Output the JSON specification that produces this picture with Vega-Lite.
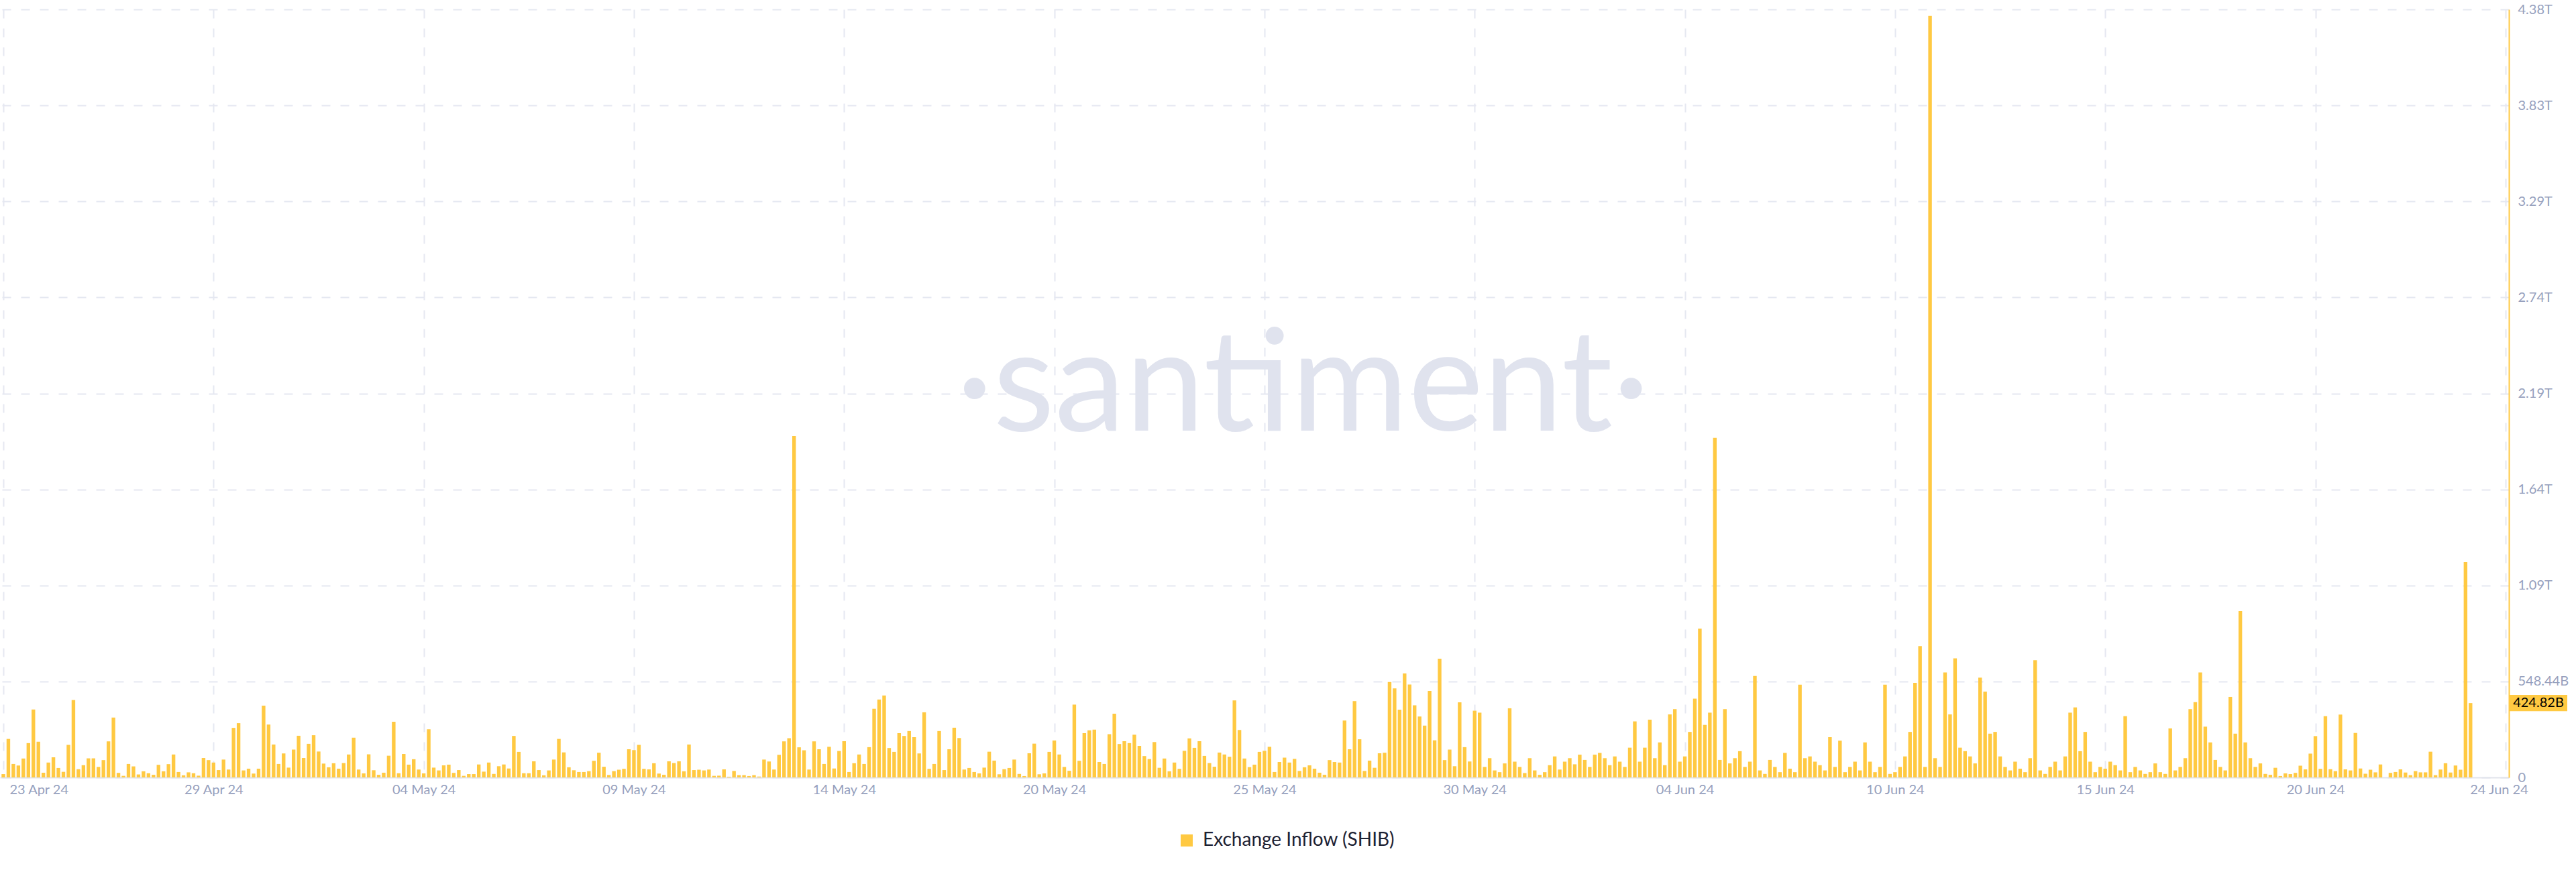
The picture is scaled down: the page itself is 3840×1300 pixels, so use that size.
{
"$schema": "https://vega.github.io/schema/vega-lite/v6.json",
"width": 3740,
"height": 1145,
"autosize": {"type": "none"},
"padding": {"left": 0, "top": 14, "right": 100, "bottom": 141},
"background": "white",
"config": {"view": {"stroke": null}, "font": "Lato"},
"datasets": {
"brand": [{"t": "2024-05-26T05:00", "v": 1981, "name": "·santiment·"}],
"last": [{"t": "2024-06-24T09:00", "v": 424.82, "lbl": "424.82B"}],
"inflow": [
{"t":"2024-04-23T18:00","v":19},{"t":"2024-04-23T21:00","v":220},
{"t":"2024-04-24T00:00","v":77},{"t":"2024-04-24T03:00","v":68},{"t":"2024-04-24T06:00","v":108},{"t":"2024-04-24T09:00","v":196},{"t":"2024-04-24T12:00","v":388},{"t":"2024-04-24T15:00","v":204},{"t":"2024-04-24T18:00","v":27},{"t":"2024-04-24T21:00","v":85},
{"t":"2024-04-25T00:00","v":115},{"t":"2024-04-25T03:00","v":54},{"t":"2024-04-25T06:00","v":32},{"t":"2024-04-25T09:00","v":186},{"t":"2024-04-25T12:00","v":442},{"t":"2024-04-25T15:00","v":47},{"t":"2024-04-25T18:00","v":70},{"t":"2024-04-25T21:00","v":109},
{"t":"2024-04-26T00:00","v":109},{"t":"2024-04-26T03:00","v":60},{"t":"2024-04-26T06:00","v":99},{"t":"2024-04-26T09:00","v":206},{"t":"2024-04-26T12:00","v":342},{"t":"2024-04-26T15:00","v":26},{"t":"2024-04-26T18:00","v":9},{"t":"2024-04-26T21:00","v":77},
{"t":"2024-04-27T00:00","v":63},{"t":"2024-04-27T03:00","v":17},{"t":"2024-04-27T06:00","v":35},{"t":"2024-04-27T09:00","v":24},{"t":"2024-04-27T12:00","v":15},{"t":"2024-04-27T15:00","v":72},{"t":"2024-04-27T18:00","v":35},{"t":"2024-04-27T21:00","v":76},
{"t":"2024-04-28T00:00","v":131},{"t":"2024-04-28T03:00","v":31},{"t":"2024-04-28T06:00","v":12},{"t":"2024-04-28T09:00","v":29},{"t":"2024-04-28T12:00","v":24},{"t":"2024-04-28T15:00","v":10},{"t":"2024-04-28T18:00","v":111},{"t":"2024-04-28T21:00","v":99},
{"t":"2024-04-29T00:00","v":85},{"t":"2024-04-29T03:00","v":42},{"t":"2024-04-29T06:00","v":102},{"t":"2024-04-29T09:00","v":45},{"t":"2024-04-29T12:00","v":283},{"t":"2024-04-29T15:00","v":310},{"t":"2024-04-29T18:00","v":40},{"t":"2024-04-29T21:00","v":50},
{"t":"2024-04-30T00:00","v":22},{"t":"2024-04-30T03:00","v":50},{"t":"2024-04-30T06:00","v":410},{"t":"2024-04-30T09:00","v":302},{"t":"2024-04-30T12:00","v":188},{"t":"2024-04-30T15:00","v":77},{"t":"2024-04-30T18:00","v":137},{"t":"2024-04-30T21:00","v":56},
{"t":"2024-05-01T00:00","v":159},{"t":"2024-05-01T03:00","v":238},{"t":"2024-05-01T06:00","v":111},{"t":"2024-05-01T09:00","v":192},{"t":"2024-05-01T12:00","v":241},{"t":"2024-05-01T15:00","v":148},{"t":"2024-05-01T18:00","v":79},{"t":"2024-05-01T21:00","v":58},
{"t":"2024-05-02T00:00","v":81},{"t":"2024-05-02T03:00","v":50},{"t":"2024-05-02T06:00","v":82},{"t":"2024-05-02T09:00","v":131},{"t":"2024-05-02T12:00","v":227},{"t":"2024-05-02T15:00","v":45},{"t":"2024-05-02T18:00","v":23},{"t":"2024-05-02T21:00","v":132},
{"t":"2024-05-03T00:00","v":41},{"t":"2024-05-03T03:00","v":15},{"t":"2024-05-03T06:00","v":27},{"t":"2024-05-03T09:00","v":124},{"t":"2024-05-03T12:00","v":318},{"t":"2024-05-03T15:00","v":24},{"t":"2024-05-03T18:00","v":134},{"t":"2024-05-03T21:00","v":73},
{"t":"2024-05-04T00:00","v":104},{"t":"2024-05-04T03:00","v":45},{"t":"2024-05-04T06:00","v":23},{"t":"2024-05-04T09:00","v":275},{"t":"2024-05-04T12:00","v":56},{"t":"2024-05-04T15:00","v":40},{"t":"2024-05-04T18:00","v":69},{"t":"2024-05-04T21:00","v":73},
{"t":"2024-05-05T00:00","v":26},{"t":"2024-05-05T03:00","v":42},{"t":"2024-05-05T06:00","v":9},{"t":"2024-05-05T09:00","v":19},{"t":"2024-05-05T12:00","v":19},{"t":"2024-05-05T15:00","v":74},{"t":"2024-05-05T18:00","v":33},{"t":"2024-05-05T21:00","v":85},
{"t":"2024-05-06T00:00","v":20},{"t":"2024-05-06T03:00","v":64},{"t":"2024-05-06T06:00","v":74},{"t":"2024-05-06T09:00","v":51},{"t":"2024-05-06T12:00","v":237},{"t":"2024-05-06T15:00","v":146},{"t":"2024-05-06T18:00","v":24},{"t":"2024-05-06T21:00","v":24},
{"t":"2024-05-07T00:00","v":92},{"t":"2024-05-07T03:00","v":42},{"t":"2024-05-07T06:00","v":12},{"t":"2024-05-07T09:00","v":40},{"t":"2024-05-07T12:00","v":102},{"t":"2024-05-07T15:00","v":220},{"t":"2024-05-07T18:00","v":143},{"t":"2024-05-07T21:00","v":58},
{"t":"2024-05-08T00:00","v":41},{"t":"2024-05-08T03:00","v":31},{"t":"2024-05-08T06:00","v":31},{"t":"2024-05-08T09:00","v":36},{"t":"2024-05-08T12:00","v":95},{"t":"2024-05-08T15:00","v":141},{"t":"2024-05-08T18:00","v":61},{"t":"2024-05-08T21:00","v":14},
{"t":"2024-05-09T00:00","v":36},{"t":"2024-05-09T03:00","v":44},{"t":"2024-05-09T06:00","v":49},{"t":"2024-05-09T09:00","v":161},{"t":"2024-05-09T12:00","v":156},{"t":"2024-05-09T15:00","v":186},{"t":"2024-05-09T18:00","v":49},{"t":"2024-05-09T21:00","v":46},
{"t":"2024-05-10T00:00","v":81},{"t":"2024-05-10T03:00","v":22},{"t":"2024-05-10T06:00","v":15},{"t":"2024-05-10T09:00","v":92},{"t":"2024-05-10T12:00","v":82},{"t":"2024-05-10T15:00","v":92},{"t":"2024-05-10T18:00","v":35},{"t":"2024-05-10T21:00","v":188},
{"t":"2024-05-11T00:00","v":42},{"t":"2024-05-11T03:00","v":44},{"t":"2024-05-11T06:00","v":40},{"t":"2024-05-11T09:00","v":45},{"t":"2024-05-11T12:00","v":9},{"t":"2024-05-11T15:00","v":10},{"t":"2024-05-11T18:00","v":46},{"t":"2024-05-11T21:00","v":4},
{"t":"2024-05-12T00:00","v":37},{"t":"2024-05-12T03:00","v":13},{"t":"2024-05-12T06:00","v":13},{"t":"2024-05-12T09:00","v":8},{"t":"2024-05-12T12:00","v":13},{"t":"2024-05-12T15:00","v":5},{"t":"2024-05-12T18:00","v":102},{"t":"2024-05-12T21:00","v":91},
{"t":"2024-05-13T00:00","v":45},{"t":"2024-05-13T03:00","v":129},{"t":"2024-05-13T06:00","v":206},{"t":"2024-05-13T09:00","v":224},{"t":"2024-05-13T12:00","v":1950},{"t":"2024-05-13T15:00","v":172},{"t":"2024-05-13T18:00","v":155},{"t":"2024-05-13T21:00","v":45},
{"t":"2024-05-14T00:00","v":206},{"t":"2024-05-14T03:00","v":161},{"t":"2024-05-14T06:00","v":77},{"t":"2024-05-14T09:00","v":175},{"t":"2024-05-14T12:00","v":51},{"t":"2024-05-14T15:00","v":151},{"t":"2024-05-14T18:00","v":207},{"t":"2024-05-14T21:00","v":31},
{"t":"2024-05-15T00:00","v":81},{"t":"2024-05-15T03:00","v":131},{"t":"2024-05-15T06:00","v":77},{"t":"2024-05-15T09:00","v":173},{"t":"2024-05-15T12:00","v":392},{"t":"2024-05-15T15:00","v":445},{"t":"2024-05-15T18:00","v":468},{"t":"2024-05-15T21:00","v":168},
{"t":"2024-05-16T00:00","v":146},{"t":"2024-05-16T03:00","v":253},{"t":"2024-05-16T06:00","v":237},{"t":"2024-05-16T09:00","v":265},{"t":"2024-05-16T12:00","v":230},{"t":"2024-05-16T15:00","v":137},{"t":"2024-05-16T18:00","v":372},{"t":"2024-05-16T21:00","v":49},
{"t":"2024-05-17T00:00","v":77},{"t":"2024-05-17T03:00","v":265},{"t":"2024-05-17T06:00","v":42},{"t":"2024-05-17T09:00","v":161},{"t":"2024-05-17T12:00","v":284},{"t":"2024-05-17T15:00","v":225},{"t":"2024-05-17T18:00","v":45},{"t":"2024-05-17T21:00","v":54},
{"t":"2024-05-18T00:00","v":31},{"t":"2024-05-18T03:00","v":23},{"t":"2024-05-18T06:00","v":56},{"t":"2024-05-18T09:00","v":147},{"t":"2024-05-18T12:00","v":96},{"t":"2024-05-18T15:00","v":18},{"t":"2024-05-18T18:00","v":47},{"t":"2024-05-18T21:00","v":54},
{"t":"2024-05-19T00:00","v":102},{"t":"2024-05-19T03:00","v":20},{"t":"2024-05-19T06:00","v":8},{"t":"2024-05-19T09:00","v":138},{"t":"2024-05-19T12:00","v":193},{"t":"2024-05-19T15:00","v":18},{"t":"2024-05-19T18:00","v":23},{"t":"2024-05-19T21:00","v":146},
{"t":"2024-05-20T00:00","v":211},{"t":"2024-05-20T03:00","v":131},{"t":"2024-05-20T06:00","v":60},{"t":"2024-05-20T09:00","v":38},{"t":"2024-05-20T12:00","v":416},{"t":"2024-05-20T15:00","v":95},{"t":"2024-05-20T18:00","v":253},{"t":"2024-05-20T21:00","v":269},
{"t":"2024-05-21T00:00","v":273},{"t":"2024-05-21T03:00","v":88},{"t":"2024-05-21T06:00","v":77},{"t":"2024-05-21T09:00","v":247},{"t":"2024-05-21T12:00","v":364},{"t":"2024-05-21T15:00","v":191},{"t":"2024-05-21T18:00","v":207},{"t":"2024-05-21T21:00","v":196},
{"t":"2024-05-22T00:00","v":244},{"t":"2024-05-22T03:00","v":180},{"t":"2024-05-22T06:00","v":122},{"t":"2024-05-22T09:00","v":105},{"t":"2024-05-22T12:00","v":202},{"t":"2024-05-22T15:00","v":55},{"t":"2024-05-22T18:00","v":108},{"t":"2024-05-22T21:00","v":35},
{"t":"2024-05-23T00:00","v":85},{"t":"2024-05-23T03:00","v":49},{"t":"2024-05-23T06:00","v":152},{"t":"2024-05-23T09:00","v":223},{"t":"2024-05-23T12:00","v":169},{"t":"2024-05-23T15:00","v":207},{"t":"2024-05-23T18:00","v":123},{"t":"2024-05-23T21:00","v":82},
{"t":"2024-05-24T00:00","v":61},{"t":"2024-05-24T03:00","v":142},{"t":"2024-05-24T06:00","v":131},{"t":"2024-05-24T09:00","v":118},{"t":"2024-05-24T12:00","v":440},{"t":"2024-05-24T15:00","v":271},{"t":"2024-05-24T18:00","v":108},{"t":"2024-05-24T21:00","v":59},
{"t":"2024-05-25T00:00","v":73},{"t":"2024-05-25T03:00","v":146},{"t":"2024-05-25T06:00","v":152},{"t":"2024-05-25T09:00","v":175},{"t":"2024-05-25T12:00","v":31},{"t":"2024-05-25T15:00","v":88},{"t":"2024-05-25T18:00","v":113},{"t":"2024-05-25T21:00","v":85},
{"t":"2024-05-26T00:00","v":106},{"t":"2024-05-26T03:00","v":37},{"t":"2024-05-26T06:00","v":58},{"t":"2024-05-26T09:00","v":69},{"t":"2024-05-26T12:00","v":50},{"t":"2024-05-26T15:00","v":27},{"t":"2024-05-26T18:00","v":15},{"t":"2024-05-26T21:00","v":99},
{"t":"2024-05-27T00:00","v":88},{"t":"2024-05-27T03:00","v":85},{"t":"2024-05-27T06:00","v":325},{"t":"2024-05-27T09:00","v":161},{"t":"2024-05-27T12:00","v":436},{"t":"2024-05-27T15:00","v":218},{"t":"2024-05-27T18:00","v":37},{"t":"2024-05-27T21:00","v":96},
{"t":"2024-05-28T00:00","v":55},{"t":"2024-05-28T03:00","v":138},{"t":"2024-05-28T06:00","v":141},{"t":"2024-05-28T09:00","v":545},{"t":"2024-05-28T12:00","v":509},{"t":"2024-05-28T15:00","v":387},{"t":"2024-05-28T18:00","v":594},{"t":"2024-05-28T21:00","v":531},
{"t":"2024-05-29T00:00","v":412},{"t":"2024-05-29T03:00","v":348},{"t":"2024-05-29T06:00","v":296},{"t":"2024-05-29T09:00","v":494},{"t":"2024-05-29T12:00","v":212},{"t":"2024-05-29T15:00","v":678},{"t":"2024-05-29T18:00","v":99},{"t":"2024-05-29T21:00","v":159},
{"t":"2024-05-30T00:00","v":64},{"t":"2024-05-30T03:00","v":429},{"t":"2024-05-30T06:00","v":173},{"t":"2024-05-30T09:00","v":91},{"t":"2024-05-30T12:00","v":381},{"t":"2024-05-30T15:00","v":370},{"t":"2024-05-30T18:00","v":60},{"t":"2024-05-30T21:00","v":110},
{"t":"2024-05-31T00:00","v":40},{"t":"2024-05-31T03:00","v":30},{"t":"2024-05-31T06:00","v":80},{"t":"2024-05-31T09:00","v":395},{"t":"2024-05-31T12:00","v":90},{"t":"2024-05-31T15:00","v":60},{"t":"2024-05-31T18:00","v":25},{"t":"2024-05-31T21:00","v":110},
{"t":"2024-06-01T00:00","v":40},{"t":"2024-06-01T03:00","v":15},{"t":"2024-06-01T06:00","v":30},{"t":"2024-06-01T09:00","v":70},{"t":"2024-06-01T12:00","v":120},{"t":"2024-06-01T15:00","v":45},{"t":"2024-06-01T18:00","v":90},{"t":"2024-06-01T21:00","v":110},
{"t":"2024-06-02T00:00","v":75},{"t":"2024-06-02T03:00","v":130},{"t":"2024-06-02T06:00","v":100},{"t":"2024-06-02T09:00","v":60},{"t":"2024-06-02T12:00","v":130},{"t":"2024-06-02T15:00","v":140},{"t":"2024-06-02T18:00","v":110},{"t":"2024-06-02T21:00","v":70},
{"t":"2024-06-03T00:00","v":120},{"t":"2024-06-03T03:00","v":90},{"t":"2024-06-03T06:00","v":60},{"t":"2024-06-03T09:00","v":170},{"t":"2024-06-03T12:00","v":320},{"t":"2024-06-03T15:00","v":90},{"t":"2024-06-03T18:00","v":170},{"t":"2024-06-03T21:00","v":330},
{"t":"2024-06-04T00:00","v":110},{"t":"2024-06-04T03:00","v":200},{"t":"2024-06-04T06:00","v":70},{"t":"2024-06-04T09:00","v":360},{"t":"2024-06-04T12:00","v":390},{"t":"2024-06-04T15:00","v":90},{"t":"2024-06-04T18:00","v":120},{"t":"2024-06-04T21:00","v":260},
{"t":"2024-06-05T00:00","v":450},{"t":"2024-06-05T03:00","v":850},{"t":"2024-06-05T06:00","v":300},{"t":"2024-06-05T09:00","v":370},{"t":"2024-06-05T12:00","v":1940},{"t":"2024-06-05T15:00","v":100},{"t":"2024-06-05T18:00","v":390},{"t":"2024-06-05T21:00","v":80},
{"t":"2024-06-06T00:00","v":110},{"t":"2024-06-06T03:00","v":150},{"t":"2024-06-06T06:00","v":60},{"t":"2024-06-06T09:00","v":90},{"t":"2024-06-06T12:00","v":580},{"t":"2024-06-06T15:00","v":40},{"t":"2024-06-06T18:00","v":20},{"t":"2024-06-06T21:00","v":100},
{"t":"2024-06-07T00:00","v":60},{"t":"2024-06-07T03:00","v":30},{"t":"2024-06-07T06:00","v":140},{"t":"2024-06-07T09:00","v":50},{"t":"2024-06-07T12:00","v":30},{"t":"2024-06-07T15:00","v":530},{"t":"2024-06-07T18:00","v":110},{"t":"2024-06-07T21:00","v":120},
{"t":"2024-06-08T00:00","v":90},{"t":"2024-06-08T03:00","v":70},{"t":"2024-06-08T06:00","v":40},{"t":"2024-06-08T09:00","v":230},{"t":"2024-06-08T12:00","v":60},{"t":"2024-06-08T15:00","v":210},{"t":"2024-06-08T18:00","v":30},{"t":"2024-06-08T21:00","v":60},
{"t":"2024-06-09T00:00","v":90},{"t":"2024-06-09T03:00","v":40},{"t":"2024-06-09T06:00","v":200},{"t":"2024-06-09T09:00","v":90},{"t":"2024-06-09T12:00","v":30},{"t":"2024-06-09T15:00","v":60},{"t":"2024-06-09T18:00","v":530},{"t":"2024-06-09T21:00","v":20},
{"t":"2024-06-10T00:00","v":30},{"t":"2024-06-10T03:00","v":60},{"t":"2024-06-10T06:00","v":120},{"t":"2024-06-10T09:00","v":260},{"t":"2024-06-10T12:00","v":540},{"t":"2024-06-10T15:00","v":750},{"t":"2024-06-10T18:00","v":60},{"t":"2024-06-10T21:00","v":4350},
{"t":"2024-06-11T00:00","v":110},{"t":"2024-06-11T03:00","v":60},{"t":"2024-06-11T06:00","v":600},{"t":"2024-06-11T09:00","v":360},{"t":"2024-06-11T12:00","v":680},{"t":"2024-06-11T15:00","v":170},{"t":"2024-06-11T18:00","v":150},{"t":"2024-06-11T21:00","v":120},
{"t":"2024-06-12T00:00","v":80},{"t":"2024-06-12T03:00","v":570},{"t":"2024-06-12T06:00","v":490},{"t":"2024-06-12T09:00","v":250},{"t":"2024-06-12T12:00","v":260},{"t":"2024-06-12T15:00","v":120},{"t":"2024-06-12T18:00","v":60},{"t":"2024-06-12T21:00","v":40},
{"t":"2024-06-13T00:00","v":90},{"t":"2024-06-13T03:00","v":50},{"t":"2024-06-13T06:00","v":30},{"t":"2024-06-13T09:00","v":110},{"t":"2024-06-13T12:00","v":670},{"t":"2024-06-13T15:00","v":40},{"t":"2024-06-13T18:00","v":20},{"t":"2024-06-13T21:00","v":60},
{"t":"2024-06-14T00:00","v":90},{"t":"2024-06-14T03:00","v":40},{"t":"2024-06-14T06:00","v":120},{"t":"2024-06-14T09:00","v":370},{"t":"2024-06-14T12:00","v":400},{"t":"2024-06-14T15:00","v":150},{"t":"2024-06-14T18:00","v":260},{"t":"2024-06-14T21:00","v":90},
{"t":"2024-06-15T00:00","v":30},{"t":"2024-06-15T03:00","v":60},{"t":"2024-06-15T06:00","v":50},{"t":"2024-06-15T09:00","v":90},{"t":"2024-06-15T12:00","v":70},{"t":"2024-06-15T15:00","v":40},{"t":"2024-06-15T18:00","v":350},{"t":"2024-06-15T21:00","v":30},
{"t":"2024-06-16T00:00","v":60},{"t":"2024-06-16T03:00","v":40},{"t":"2024-06-16T06:00","v":20},{"t":"2024-06-16T09:00","v":30},{"t":"2024-06-16T12:00","v":80},{"t":"2024-06-16T15:00","v":30},{"t":"2024-06-16T18:00","v":20},{"t":"2024-06-16T21:00","v":280},
{"t":"2024-06-17T00:00","v":40},{"t":"2024-06-17T03:00","v":60},{"t":"2024-06-17T06:00","v":110},{"t":"2024-06-17T09:00","v":390},{"t":"2024-06-17T12:00","v":430},{"t":"2024-06-17T15:00","v":600},{"t":"2024-06-17T18:00","v":290},{"t":"2024-06-17T21:00","v":200},
{"t":"2024-06-18T00:00","v":100},{"t":"2024-06-18T03:00","v":60},{"t":"2024-06-18T06:00","v":40},{"t":"2024-06-18T09:00","v":460},{"t":"2024-06-18T12:00","v":250},{"t":"2024-06-18T15:00","v":950},{"t":"2024-06-18T18:00","v":200},{"t":"2024-06-18T21:00","v":110},
{"t":"2024-06-19T00:00","v":60},{"t":"2024-06-19T03:00","v":80},{"t":"2024-06-19T06:00","v":20},{"t":"2024-06-19T09:00","v":15},{"t":"2024-06-19T12:00","v":55},{"t":"2024-06-19T15:00","v":8},{"t":"2024-06-19T18:00","v":23},{"t":"2024-06-19T21:00","v":19},
{"t":"2024-06-20T00:00","v":26},{"t":"2024-06-20T03:00","v":67},{"t":"2024-06-20T06:00","v":46},{"t":"2024-06-20T09:00","v":136},{"t":"2024-06-20T12:00","v":236},{"t":"2024-06-20T15:00","v":49},{"t":"2024-06-20T18:00","v":350},{"t":"2024-06-20T21:00","v":47},
{"t":"2024-06-21T00:00","v":36},{"t":"2024-06-21T03:00","v":359},{"t":"2024-06-21T06:00","v":46},{"t":"2024-06-21T09:00","v":40},{"t":"2024-06-21T12:00","v":254},{"t":"2024-06-21T15:00","v":51},{"t":"2024-06-21T18:00","v":21},{"t":"2024-06-21T21:00","v":44},
{"t":"2024-06-22T00:00","v":29},{"t":"2024-06-22T03:00","v":74},{"t":"2024-06-22T06:00","v":0},{"t":"2024-06-22T09:00","v":26},{"t":"2024-06-22T12:00","v":31},{"t":"2024-06-22T15:00","v":46},{"t":"2024-06-22T18:00","v":28},{"t":"2024-06-22T21:00","v":13},
{"t":"2024-06-23T00:00","v":36},{"t":"2024-06-23T03:00","v":29},{"t":"2024-06-23T06:00","v":29},{"t":"2024-06-23T09:00","v":147},{"t":"2024-06-23T12:00","v":13},{"t":"2024-06-23T15:00","v":45},{"t":"2024-06-23T18:00","v":81},{"t":"2024-06-23T21:00","v":28},
{"t":"2024-06-24T00:00","v":68},{"t":"2024-06-24T03:00","v":44},{"t":"2024-06-24T06:00","v":1230},{"t":"2024-06-24T09:00","v":424.82}
]
},
"layer": [
{
"data": {"name": "brand"},
"mark": {"type": "text", "font": "Lato", "fontWeight": 400, "fontSize": 212, "color": "#e0e3ee", "align": "center", "baseline": "alphabetic"},
"encoding": {
"x": {"field": "t", "type": "temporal"},
"y": {"field": "v", "type": "quantitative"},
"text": {"field": "name"}
}
},
{
"data": {"name": "inflow"},
"mark": {"type": "bar", "width": 5.4, "clip": true},
"encoding": {
"x": {
"field": "t", "type": "temporal", "title": null,
"scale": {"domain": [{"year": 2024, "month": 4, "date": 23, "hours": 18}, {"year": 2024, "month": 6, "date": 25, "hours": 6}], "nice": false},
"axis": {
"values": [
{"year": 2024, "month": 4, "date": 23, "hours": 18},
{"year": 2024, "month": 4, "date": 29, "hours": 0},
{"year": 2024, "month": 5, "date": 4, "hours": 6},
{"year": 2024, "month": 5, "date": 9, "hours": 12},
{"year": 2024, "month": 5, "date": 14, "hours": 18},
{"year": 2024, "month": 5, "date": 20, "hours": 0},
{"year": 2024, "month": 5, "date": 25, "hours": 6},
{"year": 2024, "month": 5, "date": 30, "hours": 12},
{"year": 2024, "month": 6, "date": 4, "hours": 18},
{"year": 2024, "month": 6, "date": 10, "hours": 0},
{"year": 2024, "month": 6, "date": 15, "hours": 6},
{"year": 2024, "month": 6, "date": 20, "hours": 12},
{"year": 2024, "month": 6, "date": 25, "hours": 6}
],
"labelExpr": "datum.value > datetime(2024,5,25) ? '24 Jun 24' : timeFormat(datum.value, '%d %b %y')",
"labelFont": "Lato", "labelFontSize": 20, "labelColor": "#96a0bd",
"labelPadding": 8, "labelOverlap": false, "labelBound": false, "labelFlush": false,
"labelAlign": {"condition": {"test": "datum.value < datetime(2024,3,24)", "value": "left"}, "value": "center"},
"labelOffset": {"condition": [{"test": "datum.value < datetime(2024,3,24)", "value": 9}, {"test": "datum.value > datetime(2024,5,25)", "value": -10}], "value": 0},
"ticks": false,
"domainColor": "#e1e4ec", "domainWidth": 2,
"grid": true, "gridColor": "#e5e8f1", "gridDash": [13, 15], "gridWidth": 2
}
},
"y": {
"field": "v", "type": "quantitative", "title": null,
"scale": {"domain": [0, 4387.5], "nice": false, "zero": true},
"axis": {
"orient": "right",
"values": [0, 548.4375, 1096.875, 1645.3125, 2193.75, 2742.1875, 3290.625, 3839.0625, 4387.5],
"labelExpr": "datum.value == 0 ? '0' : (datum.value < 1000 ? format(datum.value, '.2f') + 'B' : format(floor(datum.value / 10) / 100, '.2f') + 'T')",
"labelFont": "Lato", "labelFontSize": 20, "labelColor": "#96a0bd",
"labelPadding": 13, "labelBaseline": "middle",
"ticks": false,
"domainColor": "#FFC942", "domainWidth": 2,
"grid": true, "gridColor": "#e5e8f1", "gridDash": [13, 15], "gridWidth": 2
}
},
"color": {
"datum": "Exchange Inflow (SHIB)", "type": "nominal",
"scale": {"domain": ["Exchange Inflow (SHIB)"], "range": ["#FFC942"]},
"legend": {
"orient": "none", "legendX": 1755, "legendY": 1225, "title": null, "padding": 0,
"symbolType": "square", "symbolSize": 324, "symbolStrokeWidth": 0, "symbolOpacity": 1,
"labelFont": "Lato", "labelFontSize": 28, "labelColor": "#1d2233", "labelOffset": 10, "labelLimit": 0
}
}
}
},
{
"data": {"name": "last"},
"mark": {"type": "point", "shape": "M-1,-0.28L1,-0.28L1,0.28L-1,0.28Z", "size": 7396, "filled": true, "opacity": 1, "color": "#FFC942", "xOffset": 49},
"encoding": {
"x": {"datum": {"year": 2024, "month": 6, "date": 25, "hours": 6}, "type": "temporal"},
"y": {"field": "v", "type": "quantitative"}
}
},
{
"data": {"name": "last"},
"mark": {"type": "text", "font": "Lato", "fontSize": 20, "color": "#000000", "align": "center", "baseline": "middle", "xOffset": 49},
"encoding": {
"x": {"datum": {"year": 2024, "month": 6, "date": 25, "hours": 6}, "type": "temporal"},
"y": {"field": "v", "type": "quantitative"},
"text": {"field": "lbl"}
}
}
]
}
